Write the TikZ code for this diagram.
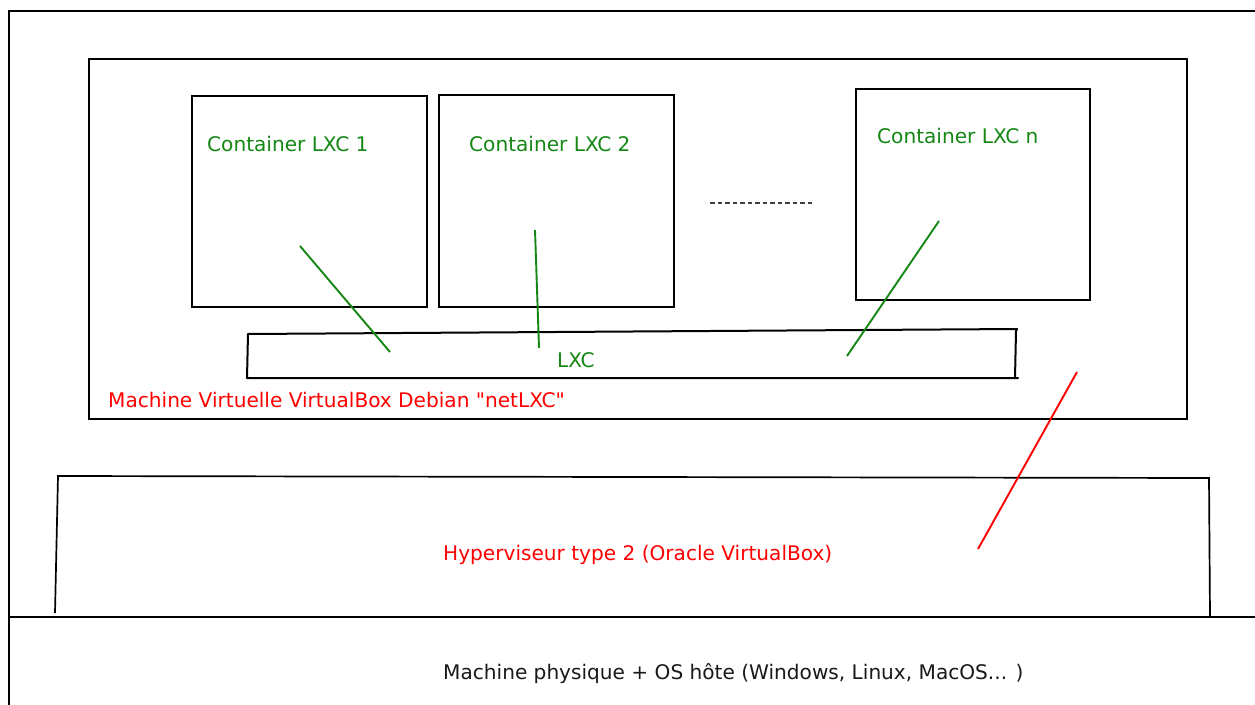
\documentclass[tikz,border=0pt]{standalone}
\usepackage{fontspec}
\setmainfont{DejaVu Sans}[Ligatures=TeXOff]
\definecolor{lxcgreen}{RGB}{20,135,20}
\definecolor{vbred}{RGB}{255,0,0}
\begin{document}
\begin{tikzpicture}[x=1pt,y=-1pt,
  frame/.style={draw=black,line width=2pt},
  link/.style={line width=1.9pt},
  lbl/.style={anchor=base west,inner sep=0pt,font=\fontsize{20.1}{22}\selectfont},
  greenlbl/.style={lbl,text=lxcgreen},
  redlbl/.style={lbl,text=vbred}]
\useasboundingbox[fill=white] (0,0) rectangle (1255,704);
% physical machine frame
\coordinate (pmtl) at (9,11);
\coordinate (pmtr) at (1258,11);
\coordinate (pmbl) at (9,707);
\draw[frame] (pmbl) -- (pmtl) -- (pmtr);
\coordinate (osl) at (9,617);
\coordinate (osr) at (1258,617);
\draw[frame] (osl) -- (osr);
% VM box
\node[frame,minimum width=1098pt,minimum height=360pt,inner sep=0pt,anchor=north west] (vm) at (88,58) {};
% containers
\node[frame,minimum width=235pt,minimum height=211pt,inner sep=0pt,anchor=north west] (c1) at (191,95) {};
\node[frame,minimum width=235pt,minimum height=212pt,inner sep=0pt,anchor=north west] (c2) at (438,94) {};
\node[frame,minimum width=234pt,minimum height=211pt,inner sep=0pt,anchor=north west] (cn) at (855,88) {};
% dots between
\coordinate (dA) at (710,203);
\coordinate (dB) at (815,203);
\draw[black!75,line width=1.3pt,dash pattern=on 4.5pt off 3pt] (dA) -- (dB);
% LXC layer (hand drawn)
\coordinate (lxtl) at (248,334);
\coordinate (lxtr) at (1017,329);
\coordinate (lxbr) at (1018,378);
\coordinate (lxbl) at (247,378);
\draw[frame,line join=round] (lxtl) -- (lxtr) -- (1016,331) -- (1015,378) -- (lxbr) -- (lxbl) -- cycle;
% hypervisor layer
\coordinate (hvtl) at (58,476);
\coordinate (hvtr) at (1209,478);
\coordinate (hvbl) at (55,613);
\coordinate (hvbr) at (1210,617);
\draw[frame,line width=1.7pt] (hvbl) -- (hvtl) -- (hvtr) -- (hvbr);
% green links
\coordinate (g1a) at (300,246); \coordinate (g1b) at (390,352);
\coordinate (g2a) at (535,230); \coordinate (g2b) at (539,348);
\coordinate (g3a) at (939,221); \coordinate (g3b) at (847,356);
\draw[link,draw=lxcgreen] (g1a) -- (g1b);
\draw[link,draw=lxcgreen] (g2a) -- (g2b);
\draw[link,draw=lxcgreen] (g3a) -- (g3b);
% red link
\coordinate (r1a) at (1077,372); \coordinate (r1b) at (978,549);
\draw[link,draw=vbred] (r1a) -- (r1b);
% labels
\node[greenlbl] (t1) at (207,151.5) {Container LXC 1};
\node[greenlbl] (t2) at (469,151.5) {Container LXC 2};
\node[greenlbl] (tn) at (877,143.5) {Container LXC n};
\node[greenlbl] (tlxc) at (557,367.5) {LXC};
\node[redlbl] (tvm) at (108,407) {Machine Virtuelle VirtualBox Debian "netLXC"};
\node[redlbl] (thv) at (443,560) {Hyperviseur type 2 (Oracle VirtualBox)};
\node[lbl,text=black!90] (tpm) at (443,679.5) {Machine physique + OS hôte (Windows, Linux, MacOS... )};
\end{tikzpicture}
\end{document}
